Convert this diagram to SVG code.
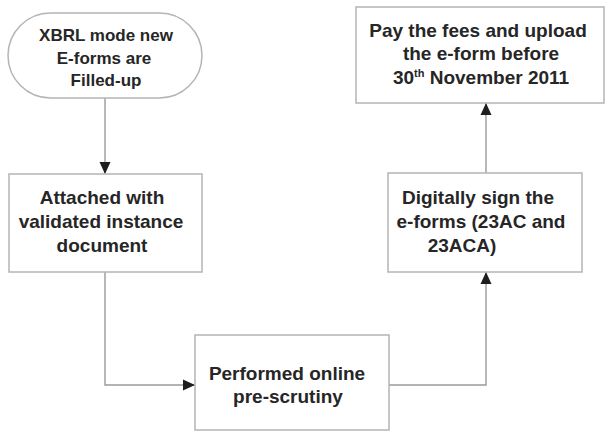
<svg xmlns="http://www.w3.org/2000/svg" width="608" height="432" viewBox="0 0 608 432">
  <defs>
    <style>
      .shape { fill: #ffffff; stroke: #b4b4b4; stroke-width: 1.5; }
      .label { font-family: "Liberation Sans", Arial, sans-serif; font-weight: bold; font-size: 19px; fill: #262626; text-anchor: middle; }
      .small { font-size: 17px; }
      .link { fill: none; stroke: #9a9a9a; stroke-width: 1.4; }
    </style>
    <marker id="arrow" markerUnits="userSpaceOnUse" markerWidth="12" markerHeight="12" viewBox="0 0 12 12" refX="12" refY="6" orient="auto">
      <polygon points="0,0.5 12,6 0,11.5" fill="#1e1e1e"/>
    </marker>
  </defs>

  <rect width="608" height="432" fill="#ffffff"/>

  <!-- connectors -->
  <g id="connectors">
    <path class="link" d="M105,98 V174" marker-end="url(#arrow)"/>
    <path class="link" d="M105,272 V385 H195" marker-end="url(#arrow)"/>
    <path class="link" d="M389,385 H486 V272" marker-end="url(#arrow)"/>
    <path class="link" d="M486,173 V103" marker-end="url(#arrow)"/>
  </g>

  <!-- start terminator -->
  <g id="start">
    <rect class="shape" x="8" y="13" width="194" height="85" rx="42.5" ry="42.5"/>
    <text class="label small" x="106" y="41">XBRL mode new</text>
    <text class="label small" x="104" y="64">E-forms are</text>
    <text class="label small" x="106" y="86">Filled-up</text>
  </g>

  <g id="attach">
    <rect class="shape" x="9" y="174" width="193" height="98"/>
    <text class="label" x="102" y="204">Attached with</text>
    <text class="label" x="101" y="228">validated instance</text>
    <text class="label" x="102" y="252">document</text>
  </g>

  <g id="prescrutiny">
    <rect class="shape" x="195" y="335" width="194" height="95"/>
    <text class="label" x="287" y="380">Performed online</text>
    <text class="label" x="288" y="403">pre-scrutiny</text>
  </g>

  <g id="sign">
    <rect class="shape" x="388" y="173" width="194" height="99"/>
    <text class="label" x="478" y="204">Digitally sign the</text>
    <text class="label" x="481" y="228">e-forms (23AC and</text>
    <text class="label" x="462" y="252">23ACA)</text>
  </g>

  <g id="upload">
    <rect class="shape" x="356" y="7" width="248" height="96"/>
    <text class="label" x="478" y="37">Pay the fees and upload</text>
    <text class="label" x="481" y="60">the e-form before</text>
    <text class="label" x="481" y="84">30<tspan font-size="11" dy="-7">th</tspan><tspan dy="7"> November 2011</tspan></text>
  </g>
</svg>
